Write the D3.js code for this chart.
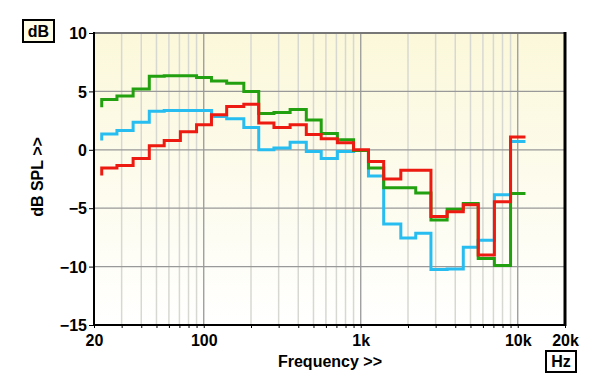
<!DOCTYPE html>
<html>
<head>
<meta charset="utf-8">
<script src="https://cdn.jsdelivr.net/npm/d3@7"></script>
<style>
  body { margin: 0; background: #fff; }
  text { font-family: "Liberation Sans", Arial, sans-serif; font-weight: bold; }
</style>
</head>
<body>
<div id="chart-area"></div>
<script>
let width = 600,
height = 387;

// 1/3 octave band edges (Hz)
let bandEdges = [22.4, 28, 35.5, 45, 56, 71, 90, 112, 140, 180, 224, 280, 355, 450, 560,
  710, 900, 1120, 1400, 1800, 2240, 2800, 3550, 4500, 5600, 7100, 9000, 11200];

// band levels (dB), one per band
let blueLevels = [1.35, 1.65, 2.35, 3.3, 3.37, 3.37, 3.37, 2.85, 2.65, 1.9, 0.0, 0.15, 0.65, -0.15,
  -0.75, -0.15, -0.05, -2.25, -6.35, -7.55, -7.15, -10.25, -10.2, -8.35, -7.75, -3.85, 0.7];
let greenLevels = [4.3, 4.6, 5.2, 6.3, 6.35, 6.35, 6.2, 5.9, 5.7, 5.0, 3.1, 3.2, 3.45, 2.55,
  1.4, 0.85, -0.05, -1.55, -3.25, -3.25, -3.7, -6.0, -5.1, -4.6, -9.3, -9.9, -3.75];
let redLevels = [-1.55, -1.35, -0.75, 0.35, 0.8, 1.55, 2.15, 3.0, 3.7, 3.9, 2.3, 1.9, 2.15, 1.3,
  0.95, 0.6, 0.0, -1.0, -2.5, -1.75, -1.75, -5.7, -5.3, -4.7, -9.0, -4.45, 1.1];
// level where each trace starts (short stub under the first band): blue, green, red
let startLevels = [0.8, 3.65, -2.2];

let yTicks = [10, 5, 0, -5, -10, -15];
let xLabels = [20, 100, 1000, 10000, 20000];
let xLabelText = ["20", "100", "1k", "10k", "20k"];
let xMinor = [30, 40, 50, 60, 70, 80, 90, 200, 300, 400, 500, 600, 700, 800, 900,
  2000, 3000, 4000, 5000, 6000, 7000, 8000, 9000];

let svg = d3.select("#chart-area").append("svg")
  .attr("width", width)
  .attr("height", height);

let x = d3.scaleLog().domain([20, 20000]).range([94, 565]);
let y = d3.scaleLinear().domain([-15, 10]).range([325, 33]);

// background gradient
let grad = svg.append("defs").append("linearGradient")
  .attr("id", "bg").attr("x1", 0).attr("y1", 0).attr("x2", 0).attr("y2", 1);
grad.append("stop").attr("offset", "0%").attr("stop-color", "#fbf8da");
grad.append("stop").attr("offset", "100%").attr("stop-color", "#ffffff");

svg.append("rect")
  .attr("x", x(20)).attr("y", y(10))
  .attr("width", x(20000) - x(20)).attr("height", y(-15) - y(10))
  .attr("fill", "url(#bg)");

// grid
svg.selectAll(".minor")
  .data(xMinor)
  .enter().append("line")
  .attr("x1", d => x(d)).attr("x2", d => x(d))
  .attr("y1", y(10)).attr("y2", y(-15))
  .style("stroke", "#d8d8d2").style("stroke-width", 1.5);

svg.selectAll(".major")
  .data([100, 1000, 10000])
  .enter().append("line")
  .attr("x1", d => x(d)).attr("x2", d => x(d))
  .attr("y1", y(10)).attr("y2", y(-15))
  .style("stroke", "#999").style("stroke-width", 1.3);

svg.selectAll(".hgrid")
  .data([5, 0, -5, -10])
  .enter().append("line")
  .attr("x1", x(20)).attr("x2", x(20000))
  .attr("y1", d => y(d)).attr("y2", d => y(d))
  .style("stroke", "#999").style("stroke-width", 1.3);

// axes
let yAxis = svg.append("g")
  .attr("transform", "translate(" + x(20) + ",0)")
  .call(d3.axisLeft(y).tickValues(yTicks).tickSize(5).tickPadding(2));
yAxis.select(".domain").remove();
yAxis.selectAll("text").style("font-size", "16px").attr("dy", "0.36em").attr("fill", "#000");

let xAxis = svg.append("g")
  .attr("transform", "translate(0," + y(-15) + ")")
  .call(d3.axisBottom(x).tickValues(xLabels.concat(xMinor)).tickSize(3)
    .tickFormat(d => { let i = xLabels.indexOf(d); return i >= 0 ? xLabelText[i] : ""; }));
xAxis.select(".domain").remove();
xAxis.selectAll("text").style("font-size", "16px").attr("y", 10).attr("fill", "#000");

// traces
let line = d3.line().x(d => x(d[0])).y(d => y(d[1]));

function stepPoints(levels, start) {
  let pts = [[bandEdges[0], start]];
  levels.forEach((v, i) => {
    pts.push([bandEdges[i], v]);
    pts.push([bandEdges[i + 1], v]);
  });
  return pts;
}

let traces = [
  { levels: blueLevels, start: startLevels[0], color: "#27bdf0" },
  { levels: greenLevels, start: startLevels[1], color: "#22a010" },
  { levels: redLevels, start: startLevels[2], color: "#ec1a10" }
];

svg.selectAll(".trace")
  .data(traces)
  .enter().append("path")
  .attr("d", d => line(stepPoints(d.levels, d.start)))
  .style("fill", "none")
  .style("stroke", d => d.color)
  .style("stroke-width", 3)
  .style("stroke-linejoin", "miter");

// frame
svg.append("line").attr("x1", x(20)).attr("x2", x(20000)).attr("y1", y(10)).attr("y2", y(10))
  .style("stroke", "#777").style("stroke-width", 2);
svg.append("line").attr("x1", x(20)).attr("x2", x(20)).attr("y1", y(10) - 1).attr("y2", y(-15) + 1)
  .style("stroke", "#000").style("stroke-width", 2);
svg.append("line").attr("x1", x(20) - 1).attr("x2", x(20000)).attr("y1", y(-15)).attr("y2", y(-15))
  .style("stroke", "#000").style("stroke-width", 2);
svg.append("line").attr("x1", x(20000)).attr("x2", x(20000)).attr("y1", y(10) - 1).attr("y2", y(-15) + 1)
  .style("stroke", "#000").style("stroke-width", 3);

// titles
svg.append("text")
  .attr("x", 330).attr("y", 367)
  .attr("text-anchor", "middle")
  .style("font-size", "16px")
  .text("Frequency >>");

svg.append("text")
  .attr("transform", "translate(43,177) rotate(-90)")
  .attr("text-anchor", "middle")
  .style("font-size", "16px")
  .text("dB SPL >>");

// unit boxes
svg.append("rect").attr("x", 23).attr("y", 20).attr("width", 31).attr("height", 22)
  .attr("fill", "#fffde6").attr("stroke", "#000").attr("stroke-width", 2);
svg.append("text").attr("x", 38.5).attr("y", 36.7).attr("text-anchor", "middle")
  .style("font-size", "16px").text("dB");

svg.append("rect").attr("x", 546).attr("y", 351).attr("width", 30).attr("height", 21)
  .attr("fill", "#fff").attr("stroke", "#000").attr("stroke-width", 2);
svg.append("text").attr("x", 561).attr("y", 367).attr("text-anchor", "middle")
  .style("font-size", "16px").text("Hz");
</script>
</body>
</html>
